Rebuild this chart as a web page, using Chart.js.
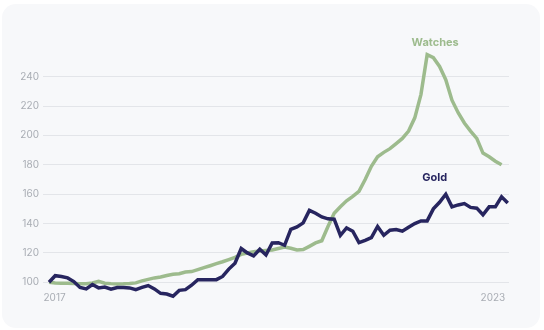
<!DOCTYPE html>
<html>
<head>
<meta charset="utf-8">
<script src="https://cdn.jsdelivr.net/npm/chart.js@4.4.1/dist/chart.umd.min.js"></script>
<style>
  html, body { margin: 0; padding: 0; background: #ffffff; }
  #wrap { position: relative; width: 544px; height: 330px; overflow: hidden; }
  .card { position: absolute; left: 2px; top: 4px; width: 538px; height: 324px; border-radius: 14px; background: #f7f8fa; }
  canvas { position: absolute; left: 0; top: 0; }
</style>
</head>
<body>
<div id="wrap">
  <div class="card"></div>
  <canvas id="chart" width="544" height="330"></canvas>
</div>
<script>
// Monthly index values, January 2017 = 100
const goldIndex = [
  100, 104.5, 104, 103, 100.5, 96.5, 95.5, 98.5, 96.2, 96.8,
  95.3, 96.5, 96.5, 96.2, 95, 96.5, 97.8, 95.5, 92.5, 92,
  90.5, 94.5, 95, 98, 101.8, 101.8, 101.8, 101.8, 104, 109,
  113, 123, 120, 118, 122.5, 118.6, 126.8, 127, 125.2, 136,
  137.7, 140.5, 149, 147, 144.5, 143.2, 143, 132, 137, 134.8,
  127, 128.6, 130.5, 138, 132, 135.5, 136, 134.8, 137.5, 140,
  141.8, 141.8, 150, 154.5, 160, 151.4, 152.7, 153.6, 151, 150.5,
  146, 151.4, 151.4, 158.2, 154
];
const watchesIndex = [
  100, 99.6, 99.4, 99.3, 99.2, 99.1, 99.1, 99.6, 100.6, 99.4,
  99.1, 98.9, 99, 99.2, 99.6, 101, 102, 103, 103.6, 104.6,
  105.5, 105.8, 107, 107.3, 108.6, 110, 111.3, 112.7, 114, 115.5,
  117, 119, 120, 120.8, 121.4, 121.7, 122, 123, 124, 123.2,
  122, 122.3, 124.5, 126.8, 128.3, 138, 147, 151.5, 155.5, 158.5,
  162, 170, 179, 185.5, 188.5, 191, 194.5, 198, 203, 212,
  228, 255, 253, 247, 238, 224, 215.5, 208.5, 203, 198,
  188, 185.5, 182.5, 180
];
const seriesNames = ['Gold', 'Watches'];
const seriesColors = ['#27255f', '#9dbb8d'];

// Axis ticks: y in index points, x in months since January 2017
const yTicks = [100, 120, 140, 160, 180, 200, 220, 240];
const xTickLabels = ['2017', '2023'];
const xTickMonths = [0.9, 71.6];

const toPoints = arr => arr.map((v, i) => ({ x: i, y: v }));

// Series names written next to each line, anchored on the series' highest point
const seriesLabelPlugin = {
  id: 'seriesLabels',
  afterDatasetsDraw(chart, args, opts) {
    const { ctx } = chart;
    ctx.save();
    ctx.font = 'bold 11px Inter, "Noto Sans", sans-serif';
    ctx.textAlign = 'center';
    ctx.textBaseline = 'middle';
    opts.items.forEach(item => {
      const meta = chart.getDatasetMeta(item.dataset);
      const values = chart.data.datasets[item.dataset].data.map(p => p.y);
      const top = values.indexOf(Math.max(...values));
      const el = meta.data[top];
      ctx.fillStyle = seriesColors[item.dataset];
      ctx.fillText(seriesNames[item.dataset], el.x + item.dx, el.y + item.dy);
    });
    ctx.restore();
  }
};

new Chart(document.getElementById('chart'), {
  type: 'line',
  data: {
    datasets: [
      {
        label: seriesNames[0],
        data: toPoints(goldIndex),
        borderColor: seriesColors[0],
        borderWidth: 3.5,
        pointRadius: 0,
        tension: 0,
        clip: false,
        order: 0
      },
      {
        label: seriesNames[1],
        data: toPoints(watchesIndex),
        borderColor: seriesColors[1],
        borderWidth: 3.5,
        pointRadius: 0,
        tension: 0,
        clip: false,
        order: 1
      }
    ]
  },
  options: {
    responsive: false,
    animation: false,
    events: [],
    layout: { padding: { top: 50, right: 35, left: 0, bottom: 0 } },
    plugins: {
      legend: { display: false },
      tooltip: { enabled: false },
      seriesLabels: {
        items: [
          { dataset: 1, dx: 8, dy: -12.5 },
          { dataset: 0, dx: -11, dy: -17 }
        ]
      }
    },
    scales: {
      x: {
        type: 'linear',
        min: -0.97,
        max: 74.2,
        afterFit(scale) { scale.height = 40; },
        afterBuildTicks(scale) { scale.ticks = xTickMonths.map(v => ({ value: v })); },
        grid: { display: false, drawTicks: false },
        border: { display: false },
        ticks: {
          autoSkip: false,
          maxRotation: 0,
          padding: 2,
          color: '#a9adb4',
          font: { family: 'Inter, "Noto Sans", sans-serif', size: 10 },
          callback: (v, i) => xTickLabels[i]
        }
      },
      y: {
        min: 94.76,
        max: 258.2,
        afterFit(scale) { scale.width = 43; },
        afterBuildTicks(scale) { scale.ticks = yTicks.map(v => ({ value: v })); },
        grid: { color: '#e3e5e9', lineWidth: 1, drawTicks: false },
        border: { display: false },
        ticks: {
          padding: 4,
          color: '#a9adb4',
          font: { family: 'Inter, "Noto Sans", sans-serif', size: 10 }
        }
      }
    }
  },
  plugins: [seriesLabelPlugin]
});
</script>
</body>
</html>
